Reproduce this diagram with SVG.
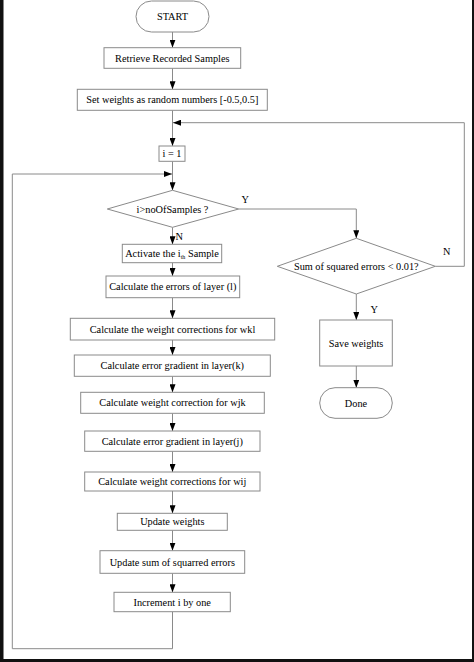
<svg xmlns="http://www.w3.org/2000/svg" width="474" height="662" viewBox="0 0 474 662">
<style>
.box{fill:#fff;stroke:#8a8a8a;stroke-width:1}
.ln{fill:none;stroke:#8a8a8a;stroke-width:1}
.t{font-family:"Liberation Serif","Times New Roman",serif;font-size:10.3px;fill:#000;text-anchor:middle}
.lbl{font-family:"Liberation Serif","Times New Roman",serif;font-size:10.3px;fill:#000}
</style>
<defs>
<marker id="ah" markerUnits="userSpaceOnUse" viewBox="0 0 8 6" refX="8" refY="3" markerWidth="8" markerHeight="6" orient="auto">
<path d="M0,0 L8,3 L0,6 z" fill="#000"/>
</marker>
</defs>
<rect x="0" y="0" width="474" height="662" fill="#fff"/>
<rect x="0" y="0" width="3.5" height="662" fill="#111"/>
<rect x="0" y="659" width="474" height="3" fill="#111"/>
<rect x="472" y="0" width="2" height="662" fill="#111"/>

<g id="connectors">
<line class="ln" x1="172.5" y1="32" x2="172.5" y2="47.7" marker-end="url(#ah)"/>
<line class="ln" x1="172.5" y1="68.3" x2="172.5" y2="89.3" marker-end="url(#ah)"/>
<line class="ln" x1="172.5" y1="110.3" x2="172.5" y2="146" marker-end="url(#ah)"/>
<line class="ln" x1="172.5" y1="161.3" x2="172.5" y2="190.3" marker-end="url(#ah)"/>
<line class="ln" x1="172.5" y1="227.3" x2="172.5" y2="244.3" marker-end="url(#ah)"/>
<line class="ln" x1="172.5" y1="262.7" x2="172.5" y2="276" marker-end="url(#ah)"/>
<line class="ln" x1="172.5" y1="297.7" x2="172.5" y2="318.3" marker-end="url(#ah)"/>
<line class="ln" x1="172.5" y1="340" x2="172.5" y2="355" marker-end="url(#ah)"/>
<line class="ln" x1="172.5" y1="376.3" x2="172.5" y2="392.3" marker-end="url(#ah)"/>
<line class="ln" x1="172.5" y1="413.3" x2="172.5" y2="431" marker-end="url(#ah)"/>
<line class="ln" x1="172.5" y1="451.3" x2="172.5" y2="472" marker-end="url(#ah)"/>
<line class="ln" x1="172.5" y1="491" x2="172.5" y2="513.3" marker-end="url(#ah)"/>
<line class="ln" x1="172.5" y1="530.3" x2="172.5" y2="550.7" marker-end="url(#ah)"/>
<line class="ln" x1="172.5" y1="573.3" x2="172.5" y2="592.3" marker-end="url(#ah)"/>
<polyline class="ln" points="172.5,611.7 172.5,648.7 12.3,648.7 12.3,174 172,174" marker-end="url(#ah)"/>
<polyline class="ln" points="238.7,209 356.3,209 356.3,238.3" marker-end="url(#ah)"/>
<polyline class="ln" points="435.3,266.3 464.3,266.3 464.3,122.7 173,122.7" marker-end="url(#ah)"/>
<line class="ln" x1="356.3" y1="294" x2="356.3" y2="320" marker-end="url(#ah)"/>
<line class="ln" x1="356.3" y1="366" x2="356.3" y2="387.7" marker-end="url(#ah)"/>
<text class="lbl" x="241.5" y="202.5">Y</text>
<text class="lbl" x="175.5" y="239.5">N</text>
<text class="lbl" x="443" y="255">N</text>
<text class="lbl" x="370.5" y="312.5">Y</text>
</g>

<g id="start"><rect class="box" x="136" y="1" width="73" height="31" rx="15.5"/><text class="t" x="172.5" y="19.5">START</text></g>
<g id="retrieve"><rect class="box" x="104" y="47.7" width="136.7" height="20.6"/><text class="t" x="172.3" y="61.5">Retrieve Recorded Samples</text></g>
<g id="setweights"><rect class="box" x="77.3" y="89.3" width="190" height="21"/><text class="t" x="172.3" y="103.3">Set weights as random numbers [-0.5,0.5]</text></g>
<g id="init"><rect class="box" x="159" y="146" width="26" height="15.3"/><text class="t" x="172" y="157">i = 1</text></g>
<g id="cond1"><polygon class="box" points="107.3,209 172.5,190.3 238.7,209 172.5,227.3"/><text class="t" x="172.5" y="212.5">i&gt;noOfSamples ?</text></g>
<g id="activate"><rect class="box" x="122.3" y="244.3" width="99.4" height="18.4"/><text class="t" x="172" y="257">Activate the i<tspan font-size="6" dy="2">th</tspan><tspan dy="-2"> Sample</tspan></text></g>
<g id="errl"><rect class="box" x="106" y="276" width="133.7" height="21.7"/><text class="t" x="172.8" y="290.3">Calculate the errors of layer (l)</text></g>
<g id="wkl"><rect class="box" x="70.3" y="318.3" width="204.4" height="21.7"/><text class="t" x="172.5" y="332.7">Calculate the weight corrections for wkl</text></g>
<g id="gradk"><rect class="box" x="74.3" y="355" width="196" height="21.3"/><text class="t" x="172.3" y="369.2">Calculate error gradient in layer(k)</text></g>
<g id="wjk"><rect class="box" x="80.7" y="392.3" width="183.6" height="21"/><text class="t" x="172.5" y="406.3">Calculate weight correction for wjk</text></g>
<g id="gradj"><rect class="box" x="84.7" y="431" width="175.3" height="20.3"/><text class="t" x="172.3" y="444.7">Calculate error gradient in layer(j)</text></g>
<g id="wij"><rect class="box" x="84.7" y="472" width="175.3" height="19"/><text class="t" x="172.3" y="485">Calculate weight corrections for wij</text></g>
<g id="update"><rect class="box" x="117.3" y="513.3" width="110" height="17"/><text class="t" x="172.3" y="525.3">Update weights</text></g>
<g id="updatesum"><rect class="box" x="100" y="550.7" width="144.7" height="22.6"/><text class="t" x="172.3" y="565.5">Update sum of squarred errors</text></g>
<g id="increment"><rect class="box" x="114" y="592.3" width="116.3" height="19.4"/><text class="t" x="172.2" y="605.5">Increment i by one</text></g>
<g id="cond2"><polygon class="box" points="277.3,266.3 356.3,238.3 435.3,266.3 356.3,294"/><text class="t" x="356.3" y="269.8">Sum of squared errors &lt; 0.01?</text></g>
<g id="save"><rect class="box" x="319.7" y="320" width="72.6" height="46"/><text class="t" x="356" y="346.5">Save weights</text></g>
<g id="done"><rect class="box" x="319.7" y="387.7" width="72.6" height="30.6" rx="15.3"/><text class="t" x="356" y="406.5">Done</text></g>
</svg>
